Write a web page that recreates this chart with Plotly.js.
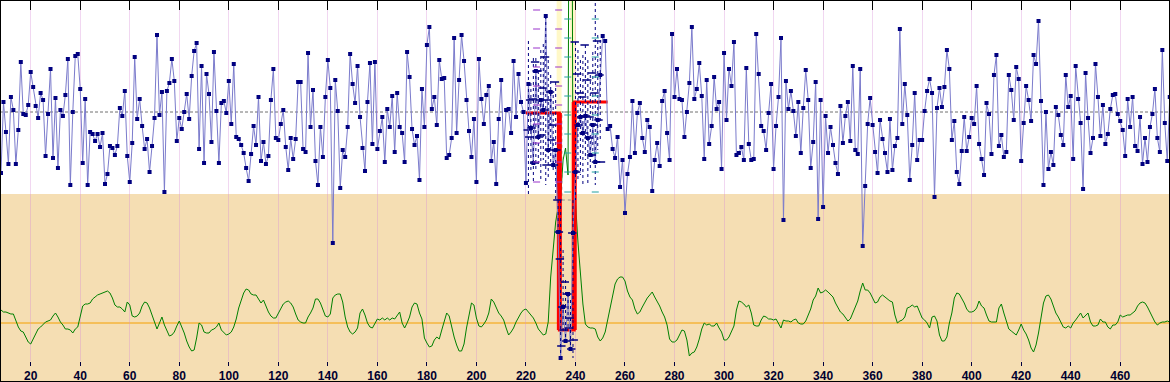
<!DOCTYPE html>
<html>
<head>
<meta charset="utf-8">
<script src="https://cdn.plot.ly/plotly-3.0.1.min.js"></script>
<style>html,body{margin:0;padding:0;background:#fff;}#chart{width:1170px;height:382px;}</style>
</head>
<body>
<div id="chart"></div>
<script>
// ---- data (index positions start at xStart, one value per index) ----
const xStart = 8;

// main blue series
const blueA = [209,280,250,218,285,272,218,252,320,268, 267,277,310,295,276,264,289,282,226,268,
  313,224,284,214,272,266,287,323,197,270, 326,328,293,219,283,197,250,248,241,248,
  235,249,198,208,236,234,227,236,274,266, 291,226,200,239,325,263,283,256,233,243,
  210,236,264,347,267,290,190,291,299,323, 301,241,264,253,270,288,263,306,331,339,
  233,316,219,308,288,240,330,271,219,279, 281,269,301,258,318,245,243,237,229,214,
  201,228,256,237,285,221,240,218,226,282, 313,244,242,258,272,235,212,244,223,243, 300];
const blueB = [300,233,230,329,255,292,221,197,255,225, 285,322,294,139,302,271,194,232,225,255,
  328,298,279,316,265,234,211,280,319,238, 320,233,251,265,220,273,255,286,230,289,
  255,249,220,330,305,253,237,246,202,293, 255,337,355,273,285,257,322,303,304,224,
  227,244,344,249,302,347,321,282,251,225, 263,200,323,283,258,287,296,221,240,198,
  263,302,232,272,273,249,321,265,308,280, 270,199,298];
const blueC = [254,219,311,245,282,272,366,232,290,217,232,150,24,75,41,88,33,149,210,257,
  265,249,266,244,227,257,220,262,307, 346,341];
const blueD = [253,256,233,224,245,195,222,169,208,225, 281,229,269,279,244,230,262,255,191,222,
  239,216,281,291,249,222,348,285,313,283, 282,245,270,299,355,283,293,319,286,223,
  302,238,256,305,273,280,213,329,262,313, 296,340,227,229,235,222,314,238,222,223,
  348,308,256,251,232,269,298,213,256,285, 344,162,301,273,291,271,246,280,229,274,
  312,282,214,240,300,163,282,175,266,229, 255,237,219,208,276,239,266,280,241,316,
  232,228,313,136,196,258,284,257,230,209, 262,243,229,210,263,212,236,244,353];
const blueE = [258,298,267,202,237,289,222,242,242,271, 291,303,289,185,274,294,275,295,332,313,
  242,261,210,198,231,265,231,245,264,258, 296,238,223,207,279,268,228,307,327,236,
  247,225,230,307,292,262,315,303,221,259, 296,282,261,327,318,361,281,197,270,213,
  230,217,275,267,247,237,307,275,286,223, 316,283,259,193,309,264,229,244,318,285,
  246,277,238,248,273,287,288,268,261,252, 226,283,255,285,236,231,265,218,244,220,
  255,268,293,244,230,332,259,221,285];

// green oscillator
const greenA = [72,70,70,69,68,68,62,55,51,50, 45,40,38,43,48,53,55,58,60,61,
  62,66,69,65,60,57,53,53,52,49, 53,55,65,76,78,78,79,83,85,87,
  88,89,90,91,89,84,77,75,75,73, 70,80,77,66,65,66,69,76,80,79,
  74,67,61,53,59,65,57,52,46,47, 50,56,61,55,49,41,35,31,32,44,
  59,57,50,49,49,52,53,55,59,52, 49,47,48,50,55,63,74,81,89,93,
  92,88,87,87,83,79,82,75,70,66, 64,64,69,74,78,80,81,79,75,68, 62];
const greenB = [60,59,59,65,69,74,83,83,79,73, 66,65,68,84,87,88,88,80,65,55,
  50,48,50,54,69,73,67,59,55,54, 58,63,62,64,62,64,62,64,63,66,
  70,59,54,59,65,75,79,78,69,63, 44,39,35,36,42,45,43,52,60,69,
  66,55,45,37,31,31,38,54,67,79, 77,64,56,55,58,62,69,83,80,74,
  69,66,62,54,47,50,54,60,65,69, 72,73,70,67,64,59,53,50,47,48];
const greenC = [60,105,135,160,175,185,222,234,207,1000, 185,180,140,105,78,58,55,54,54,53,
  45,41,44,50,62,76,85,98,103,105, 105,101,91,85,82,73,68,70,75,80,
  84,87,90,85,81,76,70,65,57,43, 40,40,42,47,52,51,42,26,29,30,
  35,43,53,59,57,58,56,56,59,54, 50,42,42,45,51,56,72,81,80,78,
  75,77,69,57,56,56,62,66,65,63, 63,62,63,59,54,62,61,61,60,62,
  63,59,58,58,61,67,73,82,86,94, 89,90,92,90,87,85,79,74,70,68,
  64,61,63,69,75,81,91,99,92,92, 89,84,79,80,85,87,85,83,81,80,
  67,59,61,62,65,74];
const greenD = [75,77,75,76,70,64,62,59,54,65, 66,61,47,41,41,45,59,69,84,89,
  88,84,79,73,70,70,71,74,81,76, 74,67,61,60,60,60,74,78,69,60,
  53,51,49,47,52,58,52,48,42,34, 30,37,49,63,79,86,87,83,76,69,
  65,60,55,54,56,54,59,62,65,69, 64,67,69,60,56,56,57,63,60,60,
  55,53,57,57,60,67,65,66,67,67, 69,71,76,79,80,79,75,70,65,60,
  57,59,60,60,61,60];

// dense zone (indices 221..250): ranges and tick levels
const midStart = 221;
const midHigh  = [341,299,324,324,311,332,338,366,322,307,287,300,182,182,132,102,88,82,182,340,332,322,327,337,322,307,330,379,347,342];
const midLow   = [185,212,200,212,217,202,222,197,202,217,212,182,147,24,52,37,52,32,24,182,202,207,197,222,199,212,222,197,232,242];
const midOpen  = [252,282,283,320,311,282,294,325,282,290,257,300,182,123,75,100,88,64,149,340,308,289,285,337,302,265,309,289,341,307];
const midClose = [245,254,219,311,245,247,272,217,232,242,217,232,150,36,52,41,54,33,42,210,257,265,249,266,244,227,257,220,262,220];

// red step level
const redX = [220,233.5,233.5,239.5,239.5,253];
const redV = [269,269,52,52,280,280];

// level markers
const purpleX = [224.3,233.2];
const purpleLevels = [372,353,334,315,296,277,258,239,220,200];
const tealX = [236.9,248];
const tealLevels = [363,344,325,305,286,267,248,229,210,190];

// reference levels
const meanLevel = 270;
const baseLevel = 59;
const panelSplit = 188;
const bandA = [232.4,234.4];
const bandB = [237.8,240.2];
const boxX = [234.5,239.2];
const boxV = [182,270];

const blue = [].concat(blueA, blueB, blueC, blueD, blueE);
const green = [].concat(greenA, greenB, greenC, greenD);
const xs = blue.map((_, i) => xStart + i);
const xg = green.map((_, i) => xStart + i);

// build helper arrays
const vx = [], vy = [];
midHigh.forEach((h, i) => { vx.push(midStart + i, midStart + i, null); vy.push(h, midLow[i], null); });
const dx = [], dy = [];
midOpen.forEach((o, i) => { dx.push(midStart + i - 0.3, midStart + i + 0.3); dy.push(o, midClose[i]); });
const px = [], py = [];
purpleX.forEach(x => purpleLevels.forEach(l => { px.push(x); py.push(l); }));
const tx = [], ty = [];
tealX.forEach(x => tealLevels.forEach(l => { tx.push(x); ty.push(l); }));

const XR = [7.6, 480.1];

const traces = [
  {x: xg, y: green, mode: 'lines', line: {color: '#008000', width: 1}},
  {x: [redX[1], redX[2], null, redX[3], redX[4]], y: [redV[1], redV[2], null, redV[3], redV[4]],
   mode: 'lines', line: {color: '#ff0000', width: 5}},
  {x: redX, y: redV, mode: 'lines', line: {color: '#ff0000', width: 3}},
  {x: xs, y: blue, mode: 'lines+markers', line: {color: '#7b7bcc', width: 1},
   marker: {symbol: 'square', size: 4, color: '#000080'}},
  {x: vx, y: vy, mode: 'lines', line: {color: '#000080', width: 1, dash: 'dot'}},
  {x: dx, y: dy, mode: 'markers', marker: {symbol: 'line-ew', size: 6, line: {width: 1.5, color: '#000080'}}},
  {x: px, y: py, mode: 'markers', marker: {symbol: 'line-ew', size: 5, line: {width: 1, color: '#9933cc'}}},
  {x: tx, y: ty, mode: 'markers', marker: {symbol: 'line-ew', size: 5, line: {width: 1, color: '#20a0a0'}}},
  {x: [], y: [], xaxis: 'x2', mode: 'markers'}
];

const layout = {
  width: 1170, height: 382,
  margin: {l: 0, r: 0, t: 0, b: 21, pad: 0},
  paper_bgcolor: '#f5deb3', plot_bgcolor: '#f5deb3',
  showlegend: false, hovermode: false,
  xaxis: {range: XR, tickmode: 'linear', tick0: 0, dtick: 20, showgrid: true,
    gridcolor: 'rgba(215,140,215,0.35)', gridwidth: 1, zeroline: false, showline: false,
    ticks: 'outside', ticklen: 4, tickwidth: 1, tickcolor: '#000040',
    tickfont: {family: 'Liberation Sans, Arial, sans-serif', size: 12, color: '#000030', weight: 'bold'},
    fixedrange: true},
  xaxis2: {range: XR, overlaying: 'x', side: 'top', anchor: 'y', tickmode: 'linear', tick0: 0, dtick: 20,
    ticks: 'inside', ticklen: 10, tickwidth: 1, tickcolor: '#000000', showticklabels: false,
    showgrid: false, zeroline: false, showline: false, fixedrange: true},
  yaxis: {range: [21, 382], showgrid: false, zeroline: false, showline: false,
    showticklabels: false, ticks: '', fixedrange: true},
  shapes: [
    {type: 'rect', xref: 'paper', x0: 0, x1: 1, yref: 'y', y0: panelSplit, y1: 382,
     fillcolor: '#ffffff', line: {width: 0}, layer: 'below'},
    {type: 'rect', xref: 'x', x0: bandA[0], x1: bandA[1], yref: 'y', y0: panelSplit, y1: 382,
     fillcolor: '#fff8c8', line: {width: 0}, layer: 'below'},
    {type: 'rect', xref: 'x', x0: bandB[0], x1: bandB[1], yref: 'y', y0: panelSplit, y1: 382,
     fillcolor: '#fff8c8', line: {width: 0}, layer: 'below'},
    {type: 'line', xref: 'paper', x0: 0, x1: 1, yref: 'y', y0: meanLevel, y1: meanLevel,
     line: {color: '#707070', width: 1, dash: '3px,2px'}, layer: 'below'},
    {type: 'line', xref: 'paper', x0: 0, x1: 1, yref: 'y', y0: baseLevel, y1: baseLevel,
     line: {color: '#f5a000', width: 1}, layer: 'below'},
    {type: 'rect', xref: 'x', x0: boxX[0], x1: boxX[1], yref: 'y', y0: boxV[0], y1: boxV[1],
     line: {color: '#909090', width: 1, dash: 'dot'}, layer: 'below'},
    {type: 'rect', xref: 'paper', x0: 0, x1: 1, yref: 'paper', y0: -21/361, y1: 1,
     line: {color: '#000000', width: 2}, fillcolor: 'rgba(0,0,0,0)', layer: 'above'}
  ]
};

Plotly.newPlot('chart', traces, layout, {displayModeBar: false, staticPlot: true});
</script>
</body>
</html>
